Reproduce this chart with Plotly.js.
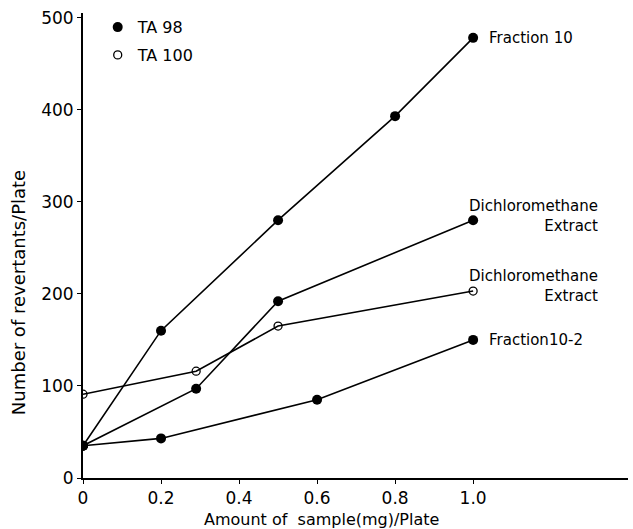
<!DOCTYPE html>
<html>
<head>
<meta charset="utf-8">
<script src="https://cdn.plot.ly/plotly-3.0.1.min.js"></script>
<style>html,body{margin:0;padding:0;background:#fff;}#chart{width:633px;height:529px;}</style>
</head>
<body>
<div id="chart"></div>
<script>
// Data
const frac10X = [0, 0.2, 0.5, 0.8, 1.0];
const frac10Y = [35, 160, 280, 393, 478];
const dcmTA98X = [0, 0.29, 0.5, 1.0];
const dcmTA98Y = [35, 97, 192, 280];
const dcmTA100X = [0, 0.29, 0.5, 1.0];
const dcmTA100Y = [91, 116, 165, 203];
const frac102X = [0, 0.2, 0.6, 1.0];
const frac102Y = [35, 43, 85, 150];
const tickVals = [0, 0.2, 0.4, 0.6, 0.8, 1.0];
const tickText = ["0", "0.2", "0.4", "0.6", "0.8", "1.0"];
const yTickVals = [0, 100, 200, 300, 400, 500];
const seriesLabels = ["Fraction 10", "Dichloromethane<br>Extract", "Dichloromethane<br>Extract", "Fraction10-2"];
const legendNames = ["TA 98", "TA 100"];
const xTitle = "Amount of  sample(mg)/Plate";
const yTitle = "Number of revertants/Plate";

const FONT = "DejaVu Sans, Liberation Sans, sans-serif";
const filled = {symbol: "circle", size: 10, color: "#000"};
const open = {symbol: "circle-open", size: 8, color: "#000", line: {width: 1.3, color: "#000"}};
const ln = {color: "#000", width: 1.6};

const traces = [
  {x: frac10X, y: frac10Y, mode: "lines+markers", marker: filled, line: ln, showlegend: false},
  {x: dcmTA98X, y: dcmTA98Y, mode: "lines+markers", marker: filled, line: ln, showlegend: false},
  {x: dcmTA100X, y: dcmTA100Y, mode: "lines+markers", marker: open, line: ln, showlegend: false},
  {x: frac102X, y: frac102Y, mode: "lines+markers", marker: filled, line: ln, showlegend: false},
  {x: [null], y: [null], mode: "markers", marker: filled, name: legendNames[0], legendgroup: "a"},
  {x: [null], y: [null], mode: "markers", marker: open, name: legendNames[1], legendgroup: "b"}
];

const labFont = {family: FONT, size: 15, color: "#000"};
const titleFont = {family: FONT, size: 16, color: "#000"};
const annotations = [
  {x: 1.036, y: 478, text: seriesLabels[0], xanchor: "left", yanchor: "middle", showarrow: false, font: labFont},
  {x: 1.326, y: 285, text: seriesLabels[1], xanchor: "right", yanchor: "middle", align: "right", showarrow: false, font: labFont},
  {x: 1.326, y: 208, text: seriesLabels[2], xanchor: "right", yanchor: "middle", align: "right", showarrow: false, font: labFont},
  {x: 1.036, y: 150, text: seriesLabels[3], xanchor: "left", yanchor: "middle", showarrow: false, font: labFont},
  {xref: "paper", yref: "paper", x: 0.4385, y: -0.09, text: xTitle, xanchor: "center", yanchor: "middle", showarrow: false, font: titleFont},
  {xref: "paper", yref: "paper", x: -0.117, y: 0.398, text: yTitle, textangle: -90, xanchor: "center", yanchor: "middle", showarrow: false, font: {family: FONT, size: 18, color: "#000"}}
];

const layout = {
  width: 633, height: 529,
  margin: {l: 83, r: 5, t: 13, b: 51},
  paper_bgcolor: "#fff", plot_bgcolor: "#fff",
  font: {family: FONT, color: "#000", size: 15},
  showlegend: true,
  legend: {x: 0.027, y: 1.006, xanchor: "left", yanchor: "top", bgcolor: "rgba(0,0,0,0)",
           font: {family: FONT, size: 16, color: "#000"}, tracegroupgap: 4, itemwidth: 30},
  xaxis: {range: [0, 1.397], tickvals: tickVals, ticktext: tickText, showgrid: false, zeroline: false,
          showline: true, linecolor: "#000", linewidth: 2, ticks: "outside", ticklen: 4, tickcolor: "#000",
          tickfont: {family: FONT, size: 17, color: "#000"}},
  yaxis: {range: [0, 505], tickvals: yTickVals, showgrid: false, zeroline: false,
          showline: true, linecolor: "#000", linewidth: 2, ticks: "outside", ticklen: 4, tickcolor: "#000",
          tickfont: {family: FONT, size: 17, color: "#000"}},
  annotations: annotations
};

Plotly.newPlot("chart", traces, layout, {displayModeBar: false, staticPlot: true});
</script>
</body>
</html>
